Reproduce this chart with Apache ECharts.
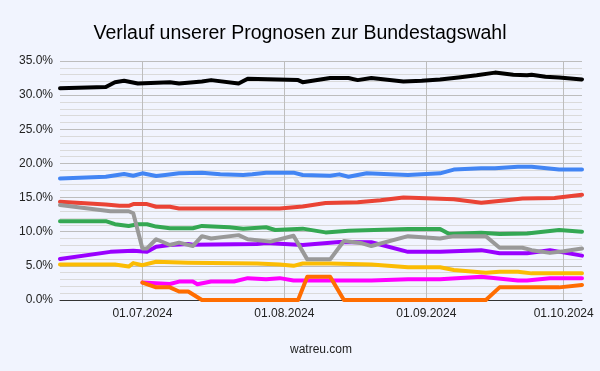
<!DOCTYPE html>
<html>
<head>
<meta charset="utf-8">
<script src="https://cdn.jsdelivr.net/npm/echarts@6/dist/echarts.min.js"></script>
<style>
html,body{margin:0;padding:0;background:#f1f4fe;}
#chart{width:600px;height:371px;}
</style>
</head>
<body>
<div id="chart"></div>
<script>
const titleText = 'Verlauf unserer Prognosen zur Bundestagswahl';
const sourceText = 'watreu.com';

const union = [['2024-06-13',31.0],['2024-06-23',31.2],['2024-06-25',31.9],['2024-06-27',32.1],['2024-06-30',31.7],['2024-07-07',31.9],['2024-07-09',31.7],['2024-07-14',32.0],['2024-07-16',32.2],['2024-07-22',31.7],['2024-07-24',32.4],['2024-08-04',32.2],['2024-08-05',31.9],['2024-08-11',32.5],['2024-08-15',32.5],['2024-08-17',32.2],['2024-08-20',32.5],['2024-08-23',32.3],['2024-08-27',32.0],['2024-08-31',32.1],['2024-09-04',32.3],['2024-09-08',32.6],['2024-09-12',32.9],['2024-09-16',33.3],['2024-09-20',33.0],['2024-09-23',32.9],['2024-09-24',33.0],['2024-09-27',32.7],['2024-09-30',32.6],['2024-10-05',32.3]];

const afd = [['2024-06-13',17.8],['2024-06-23',18.05],['2024-06-27',18.45],['2024-06-29',18.2],['2024-07-01',18.55],['2024-07-04',18.15],['2024-07-06',18.3],['2024-07-09',18.55],['2024-07-14',18.65],['2024-07-18',18.4],['2024-07-23',18.3],['2024-07-25',18.4],['2024-07-28',18.65],['2024-08-03',18.65],['2024-08-05',18.3],['2024-08-11',18.2],['2024-08-13',18.4],['2024-08-15',18.05],['2024-08-19',18.55],['2024-08-24',18.4],['2024-08-28',18.3],['2024-09-04',18.55],['2024-09-07',19.1],['2024-09-13',19.3],['2024-09-16',19.3],['2024-09-21',19.5],['2024-09-24',19.5],['2024-09-30',19.1],['2024-10-05',19.1]];

const spd = [['2024-06-13',14.4],['2024-06-23',14.0],['2024-06-26',13.8],['2024-06-28',13.8],['2024-06-29',14.05],['2024-07-02',14.05],['2024-07-04',13.65],['2024-07-07',13.65],['2024-07-09',13.4],['2024-07-31',13.4],['2024-08-05',13.7],['2024-08-10',14.2],['2024-08-17',14.3],['2024-08-22',14.6],['2024-08-27',15.0],['2024-09-01',14.9],['2024-09-07',14.75],['2024-09-13',14.25],['2024-09-19',14.65],['2024-09-22',14.85],['2024-09-29',14.95],['2024-10-05',15.4]];

const gruene = [['2024-06-13',11.55],['2024-06-23',11.55],['2024-06-25',11.1],['2024-06-28',10.85],['2024-06-30',11.1],['2024-07-02',11.1],['2024-07-04',10.75],['2024-07-07',10.5],['2024-07-12',10.5],['2024-07-14',10.85],['2024-07-20',10.65],['2024-07-23',10.45],['2024-07-28',10.65],['2024-07-30',10.25],['2024-08-05',10.45],['2024-08-10',9.9],['2024-08-15',10.15],['2024-08-28',10.4],['2024-09-04',10.4],['2024-09-06',9.65],['2024-09-13',9.85],['2024-09-17',9.65],['2024-09-23',9.75],['2024-09-30',10.25],['2024-10-05',10.0]];

const bsw = [['2024-06-13',6.0],['2024-06-24',7.05],['2024-06-29',7.2],['2024-07-02',7.05],['2024-07-04',7.8],['2024-07-07',8.05],['2024-07-11',8.2],['2024-07-12',8.1],['2024-07-26',8.2],['2024-07-28',8.35],['2024-08-05',8.05],['2024-08-13',8.5],['2024-08-20',8.45],['2024-08-28',7.05],['2024-09-04',7.05],['2024-09-13',7.3],['2024-09-17',6.85],['2024-09-23',6.85],['2024-09-28',7.3],['2024-10-05',6.5]];

const fdp = [['2024-06-13',5.2],['2024-06-25',5.2],['2024-06-28',4.9],['2024-06-29',5.4],['2024-07-01',5.1],['2024-07-04',5.6],['2024-07-11',5.45],['2024-07-26',5.35],['2024-07-31',5.2],['2024-08-03',5.0],['2024-08-05',5.35],['2024-08-11',5.35],['2024-08-20',5.2],['2024-08-28',4.8],['2024-09-04',4.8],['2024-09-07',4.4],['2024-09-14',4.0],['2024-09-17',4.15],['2024-09-21',4.15],['2024-09-24',3.9],['2024-10-05',3.9]];

const linke = [['2024-07-01',2.55],['2024-07-04',2.45],['2024-07-07',2.35],['2024-07-09',2.7],['2024-07-12',2.7],['2024-07-13',2.3],['2024-07-16',2.7],['2024-07-21',2.7],['2024-07-24',3.2],['2024-07-28',3.05],['2024-07-31',3.2],['2024-08-03',2.85],['2024-08-20',2.85],['2024-08-28',3.05],['2024-09-04',3.05],['2024-09-13',3.4],['2024-09-21',2.85],['2024-09-23',2.85],['2024-09-28',3.2],['2024-10-05',3.2]];

const fw = [['2024-07-01',2.55],['2024-07-04',1.85],['2024-07-07',1.85],['2024-07-09',1.25],['2024-07-11',1.25],['2024-07-14',0],['2024-08-04',0],['2024-08-06',3.4],['2024-08-11',3.4],['2024-08-14',0],['2024-09-14',0],['2024-09-17',1.85],['2024-09-30',1.85],['2024-10-05',2.2]];

const sonstige = [['2024-06-13',13.9],['2024-06-24',13.0],['2024-06-28',13.0],['2024-06-29',12.7],['2024-07-01',7.55],['2024-07-02',7.55],['2024-07-04',8.9],['2024-07-07',8.05],['2024-07-09',8.4],['2024-07-12',7.9],['2024-07-14',9.35],['2024-07-16',9.0],['2024-07-22',9.5],['2024-07-24',8.9],['2024-07-29',8.55],['2024-08-03',9.4],['2024-08-06',5.95],['2024-08-11',5.95],['2024-08-14',8.65],['2024-08-18',8.3],['2024-08-20',7.9],['2024-08-28',9.35],['2024-09-04',9.0],['2024-09-07',9.35],['2024-09-14',9.35],['2024-09-17',7.65],['2024-09-22',7.65],['2024-09-24',7.3],['2024-09-28',6.9],['2024-10-01',7.15],['2024-10-05',7.55]];

const seriesList = [
  {name:'CDU/CSU', data:union, color:'#000000'},
  {name:'AfD', data:afd, color:'#4285f4'},
  {name:'SPD', data:spd, color:'#ea4335'},
  {name:'Grüne', data:gruene, color:'#34a853'},
  {name:'BSW', data:bsw, color:'#9900ff'},
  {name:'FDP', data:fdp, color:'#fbbc04'},
  {name:'Linke', data:linke, color:'#ff00ff'},
  {name:'Freie Wähler', data:fw, color:'#ff6d01'},
  {name:'Sonstige', data:sonstige, color:'#999999'}
];

const chart = echarts.init(document.getElementById('chart'), null, {renderer:'canvas'});
const pad = n => (n < 10 ? '0' : '') + n;
chart.setOption({
  backgroundColor:'#f1f4fe',
  animation:false,
  textStyle:{fontFamily:'Liberation Sans, Arial, sans-serif'},
  title:{
    text:titleText, left:'center', top:19,
    textStyle:{fontSize:19.5, fontWeight:'normal', color:'#000', fontFamily:'Liberation Sans, Arial, sans-serif'}
  },
  grid:{left:60, right:18, top:61, bottom:71, containLabel:false},
  xAxis:{
    type:'time',
    min:'2024-06-13', max:'2024-10-05',
    minInterval: 28*86400000,
    splitNumber:4,
    name:sourceText, nameLocation:'middle', nameGap:44,
    nameTextStyle:{fontSize:12, color:'#222'},
    axisLine:{show:true, lineStyle:{color:'#333', width:1}},
    axisTick:{show:false},
    axisLabel:{
      fontSize:12, color:'#222', margin:8, hideOverlap:false,
      showMinLabel:false, showMaxLabel:false,
      formatter: function(v){ const d = new Date(v); return pad(d.getDate())+'.'+pad(d.getMonth()+1)+'.'+d.getFullYear(); }
    },
    splitLine:{show:true, showMinLine:false, showMaxLine:false, lineStyle:{color:'#bdbdbd', width:1}}
  },
  yAxis:{
    type:'value', min:0, max:35, interval:5,
    axisLine:{show:false}, axisTick:{show:false},
    axisLabel:{fontSize:12, color:'#222', margin:7, formatter: v => v.toFixed(1)+'%'},
    splitLine:{show:true, lineStyle:{color:'#bdbdbd', width:1}},
    minorTick:{show:false, splitNumber:5},
    minorSplitLine:{show:true, lineStyle:{color:'#dadada', width:1}}
  },
  series: seriesList.map(s => ({
    name:s.name, type:'line', data:s.data, showSymbol:false, symbol:'none',
    smooth:false,
    lineStyle:{width:4, color:s.color, join:'round', cap:'round'},
    itemStyle:{color:s.color}
  }))
});
</script>
</body>
</html>
